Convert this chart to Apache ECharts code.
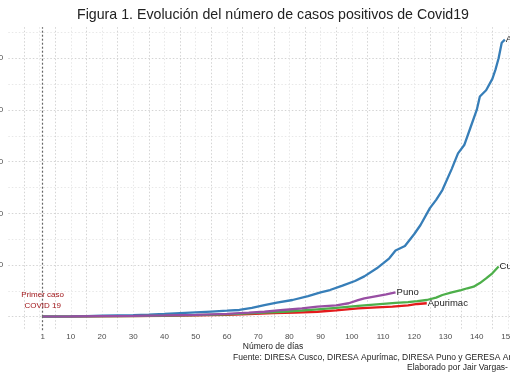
<!DOCTYPE html>
<html><head><meta charset="utf-8">
<script src="https://cdn.jsdelivr.net/npm/echarts@6/dist/echarts.min.js"></script>
<style>html,body{margin:0;padding:0;background:#fff}#c{width:510px;height:382px}</style>
</head><body><div id="c"></div>
<script>
const xTickLabels = [1,10,20,30,40,50,60,70,80,90,100,110,120,130,140,150];

const apurimacDays  = [1,10,20,30,40,50,60,67,75,82,89,95,102,108,113,118,121,124];
const apurimacCases = [1,15,30,50,80,120,180,260,340,400,480,620,810,900,970,1100,1230,1300];

const arequipaDays  = [1,5,10,15,20,25,30,35,40,45,50,55,60,64,68,72,76,81,86,90,93,97,101,104,108,110,112,114,117,120,122,125,127,129,132,134,136,138,140,141,143,145,146,147,148,149];
const arequipaCases = [1,10,30,60,90,120,150,200,260,340,420,500,580,650,850,1130,1350,1615,2000,2350,2580,3000,3450,3900,4680,5150,5650,6400,6840,8000,8870,10500,11300,12250,14300,15800,16600,18300,20000,21300,21900,23000,23900,25000,26500,26800];

const cuscoDays  = [1,10,20,30,40,50,60,67,72,78,84,89,95,102,108,114,118,121,124,127,129,132,135,137,139,141,143,145,147];
const cuscoCases = [1,10,30,60,100,150,220,330,400,480,600,715,850,1050,1200,1330,1400,1500,1615,1850,2100,2350,2580,2750,2900,3250,3700,4200,4850];

const punoDays  = [1,10,20,30,40,50,60,67,72,78,84,89,95,99,102,104,108,111,114];
const punoCases = [1,20,50,80,120,180,280,390,480,650,800,970,1100,1300,1600,1780,2000,2150,2360];

const seriesNames  = ['Apurimac','Arequipa','Cusco','Puno'];
const seriesColors = ['#E41A1C','#377EB8','#4DAF4A','#984EA3'];
const seriesDays   = [apurimacDays, arequipaDays, cuscoDays, punoDays];
const seriesCases  = [apurimacCases, arequipaCases, cuscoCases, punoCases];

const titleText   = 'Figura 1. Evolución del número de casos positivos de Covid19';
const xAxisTitle  = 'Número de días';
const caption1    = 'Fuente: DIRESA Cusco, DIRESA Apurímac, DIRESA Puno y GERESA Arequipa';
const caption2    = 'Elaborado por Jair Vargas-';
const firstCaseDay = 1;
const annotation  = ['Primer caso', 'COVID 19'];
const annotationValue = 1570;

const font = 'Liberation Sans, Arial, sans-serif';
const chart = echarts.init(document.getElementById('c'), null, {renderer:'canvas'});

const gridL = 8.3, gridW = 530.9;
const splitStyle = {show:true, showMinLine:false, showMaxLine:false,
  lineStyle:{type:[1.5,2], width:1, color:['#d4d4d4','#e8e8e8']}};

const lineSeries = seriesNames.map((n,i)=>({
  name:n, type:'line', xAxisIndex:0, yAxisIndex:0,
  data: seriesDays[i].map((d,k)=>[d, seriesCases[i][k]]),
  showSymbol:false, symbol:'none', smooth:false,
  lineStyle:{width:2.3, color:seriesColors[i]},
  itemStyle:{color:seriesColors[i]},
  endLabel:{show:true, formatter:'{a}', color:'#222', fontSize:9.5, fontFamily:font, distance:1},
  z: 3+i
}));

const option = {
  animation:false,
  backgroundColor:'#fff',
  grid:[
    {left:gridL, width:gridW, top:27.2, height:289.5, containLabel:false, outerBoundsMode:'none'},
    {left:gridL, width:gridW, top:316.7, height:13.5, containLabel:false, outerBoundsMode:'none'}
  ],
  xAxis:[
    {gridIndex:0, type:'value', min:-10, max:160, interval:5,
     axisLine:{show:false}, axisTick:{show:false}, axisLabel:{show:false}, splitLine:splitStyle},
    {gridIndex:1, type:'value', min:-10, max:160, interval:5,
     axisLine:{show:false}, axisTick:{show:false},
     axisLabel:{show:true, customValues:xTickLabels, margin:3, fontSize:8, color:'#4d4d4d', fontFamily:font},
     splitLine:splitStyle}
  ],
  yAxis:[
    {gridIndex:0, type:'value', min:0, max:28000, interval:2500,
     axisLine:{show:false}, axisTick:{show:false},
     axisLabel:{show:true, margin:5, fontSize:8, color:'#4d4d4d', fontFamily:font,
       formatter:v => (v>0 && v%5000===0) ? String(v) : ''},
     splitLine:{show:true, showMinLine:true, showMaxLine:false,
       lineStyle:{type:[1.5,2], width:1, color:['#d4d4d4','#e8e8e8']}}},
    {gridIndex:1, type:'value', min:0, max:1, show:false, splitLine:{show:false}}
  ],
  series:[
    {type:'line', name:'ref', xAxisIndex:0, yAxisIndex:0, data:[], silent:true,
     markLine:{silent:true, symbol:['none','none'], label:{show:false},
       lineStyle:{type:[2,2], width:1.2, color:'#666'}, data:[{xAxis:firstCaseDay}]},
     markPoint:{silent:true, symbol:'circle', symbolSize:0,
       label:{show:true, position:'inside', formatter:annotation.join('\n'), color:'#a0161a',
         fontSize:8, lineHeight:11, fontFamily:font},
       data:[{coord:[firstCaseDay, annotationValue]}]}},
    {type:'line', name:'ref2', xAxisIndex:1, yAxisIndex:1, data:[], silent:true,
     markLine:{silent:true, symbol:['none','none'], label:{show:false},
       lineStyle:{type:[2,2], width:1.2, color:'#666'}, data:[{xAxis:firstCaseDay}]}},
    ...lineSeries
  ],
  graphic:[
    {type:'text', x:273, y:15, style:{text:titleText, fill:'#222', fontSize:14.2, fontFamily:font, align:'center', verticalAlign:'middle'}},
    {type:'text', x:273, y:347, style:{text:xAxisTitle, fill:'#222', fontSize:8.5, fontFamily:font, align:'center', verticalAlign:'middle'}},
    {type:'text', x:233, y:357.7, style:{text:caption1, fill:'#222', fontSize:8.5, fontFamily:font, align:'left', verticalAlign:'middle'}},
    {type:'text', x:407, y:367.5, style:{text:caption2, fill:'#222', fontSize:8.5, fontFamily:font, align:'left', verticalAlign:'middle'}}
  ]
};
chart.setOption(option);
</script></body></html>
